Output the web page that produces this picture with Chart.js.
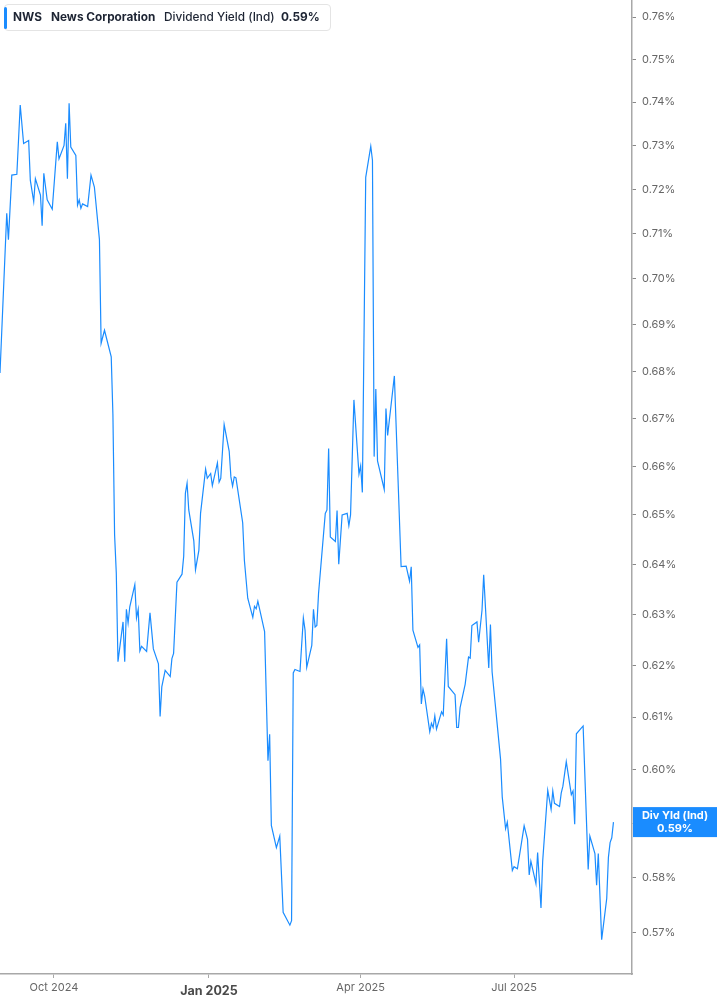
<!DOCTYPE html>
<html>
<head>
<meta charset="utf-8">
<script src="https://cdn.jsdelivr.net/npm/chart.js@4.4.1/dist/chart.umd.min.js"></script>
<style>
  html, body { margin: 0; padding: 0; background: #fff; }
  #wrap { position: relative; width: 717px; height: 1005px; }
  #legend {
    position: absolute; left: 4px; top: 4px; width: 327px; height: 27px;
    box-sizing: border-box; border: 1px solid #e4e4e4; border-radius: 4px; background: #fff;
    font-family: Inter, "Noto Sans", sans-serif; font-size: 11.8px; color: #1d2433;
  }
  #legend .bar { position: absolute; left: -1px; top: 2px; width: 3px; height: 22px; background: #1a8cff; border-radius: 2px; }
  #legend span { position: absolute; top: 5px; white-space: nowrap; }
  #legend .b { font-weight: 700; }
  #legend .m { font-weight: 500; }
</style>
</head>
<body>
<div id="wrap">
  <canvas id="chart" width="717" height="1005"></canvas>
  <div id="legend">
    <div class="bar"></div>
    <span class="b" style="left:8px">NWS</span>
    <span class="b" style="left:46px">News Corporation</span>
    <span class="m" style="left:159px">Dividend Yield (Ind)</span>
    <span class="b" id="legVal" style="left:276px"></span>
  </div>
</div>
<script>
// trading days and dividend yield in %
const dates = [
  '2024-08-30','2024-09-03','2024-09-04','2024-09-06','2024-09-09','2024-09-11','2024-09-13','2024-09-16',
  '2024-09-17','2024-09-19','2024-09-20','2024-09-23','2024-09-24','2024-09-25','2024-09-27','2024-09-30',
  '2024-10-03','2024-10-04','2024-10-07','2024-10-08','2024-10-09','2024-10-10','2024-10-11','2024-10-14',
  '2024-10-15','2024-10-16','2024-10-17','2024-10-18','2024-10-21','2024-10-23','2024-10-25','2024-10-28',
  '2024-10-29','2024-10-31','2024-11-04','2024-11-05','2024-11-06','2024-11-07','2024-11-08','2024-11-11',
  '2024-11-12','2024-11-13','2024-11-14','2024-11-15','2024-11-18','2024-11-19','2024-11-20','2024-11-21',
  '2024-11-22','2024-11-25','2024-11-27','2024-11-29','2024-12-02','2024-12-03','2024-12-04','2024-12-06',
  '2024-12-09','2024-12-10','2024-12-11','2024-12-13','2024-12-16','2024-12-17','2024-12-18','2024-12-19',
  '2024-12-20','2024-12-23','2024-12-24','2024-12-26','2024-12-27','2024-12-30','2024-12-31','2025-01-02',
  '2025-01-03','2025-01-06','2025-01-07','2025-01-08','2025-01-10','2025-01-13','2025-01-14','2025-01-15',
  '2025-01-16','2025-01-17','2025-01-21','2025-01-22','2025-01-24','2025-01-27','2025-01-28','2025-01-29',
  '2025-01-30','2025-02-03','2025-02-05','2025-02-06','2025-02-07','2025-02-10','2025-02-12','2025-02-14',
  '2025-02-18','2025-02-19','2025-02-20','2025-02-21','2025-02-24','2025-02-26','2025-02-27','2025-02-28',
  '2025-03-03','2025-03-04','2025-03-05','2025-03-06','2025-03-07','2025-03-11','2025-03-12','2025-03-13',
  '2025-03-14','2025-03-17','2025-03-18','2025-03-19','2025-03-21','2025-03-24','2025-03-25','2025-03-26',
  '2025-03-28','2025-03-31','2025-04-01','2025-04-02','2025-04-04','2025-04-07','2025-04-08','2025-04-09',
  '2025-04-10','2025-04-11','2025-04-15','2025-04-16','2025-04-17','2025-04-21','2025-04-25','2025-04-28',
  '2025-04-30','2025-05-01','2025-05-02','2025-05-05','2025-05-06','2025-05-07','2025-05-08','2025-05-09',
  '2025-05-12','2025-05-13','2025-05-14','2025-05-15','2025-05-16','2025-05-19','2025-05-20','2025-05-22',
  '2025-05-23','2025-05-27','2025-05-28','2025-05-29','2025-05-30','2025-06-02','2025-06-04','2025-06-05',
  '2025-06-06','2025-06-09','2025-06-10','2025-06-12','2025-06-13','2025-06-16','2025-06-17','2025-06-18',
  '2025-06-20','2025-06-23','2025-06-24','2025-06-26','2025-06-27','2025-06-30','2025-07-01','2025-07-03',
  '2025-07-07','2025-07-09','2025-07-10','2025-07-11','2025-07-14','2025-07-15','2025-07-17','2025-07-18',
  '2025-07-21','2025-07-23','2025-07-24','2025-07-25','2025-07-28','2025-07-29','2025-07-30','2025-08-01',
  '2025-08-04','2025-08-05','2025-08-06','2025-08-07','2025-08-11','2025-08-14','2025-08-15','2025-08-18',
  '2025-08-19','2025-08-20','2025-08-22','2025-08-25','2025-08-26','2025-08-27','2025-08-28','2025-08-29'
]
const yields = [
  0.6796,0.7146,0.7087,0.7232,0.7234,0.7393,0.7304,0.7311,
  0.7220,0.7172,0.7224,0.7187,0.7118,0.7236,0.7176,0.7155,
  0.7308,0.7269,0.7300,0.7351,0.7224,0.7397,0.7296,0.7277,
  0.7164,0.7176,0.7157,0.7167,0.7161,0.7232,0.7205,0.7087,
  0.6860,0.6888,0.6831,0.6707,0.6459,0.6382,0.6207,0.6285,
  0.6207,0.6310,0.6283,0.6315,0.6359,0.6293,0.6310,0.6228,
  0.6237,0.6227,0.6303,0.6232,0.6203,0.6101,0.6158,0.6190,
  0.6178,0.6213,0.6223,0.6364,0.6380,0.6416,0.6544,0.6565,
  0.6510,0.6447,0.6389,0.6428,0.6503,0.6594,0.6575,0.6585,
  0.6560,0.6607,0.6567,0.6575,0.6687,0.6631,0.6578,0.6559,
  0.6578,0.6576,0.6484,0.6408,0.6332,0.6294,0.6316,0.6311,
  0.6326,0.6266,0.6017,0.6067,0.5896,0.5855,0.5876,0.5737,
  0.5714,0.5722,0.6185,0.6192,0.6188,0.6293,0.6269,0.6196,
  0.6239,0.6310,0.6275,0.6278,0.6341,0.6503,0.6510,0.6637,
  0.6455,0.6446,0.6509,0.6400,0.6500,0.6503,0.6478,0.6500,
  0.6739,0.6584,0.6601,0.6546,0.7227,0.7298,0.7266,0.6620,
  0.6762,0.6611,0.6552,0.6721,0.6664,0.6790,0.6395,0.6396,
  0.6366,0.6395,0.6269,0.6235,0.6240,0.6125,0.6154,0.6140,
  0.6072,0.6088,0.6080,0.6102,0.6077,0.6110,0.6104,0.6252,
  0.6159,0.6143,0.6080,0.6080,0.6118,0.6163,0.6216,0.6214,
  0.6278,0.6285,0.6245,0.6308,0.6379,0.6195,0.6280,0.6187,
  0.6120,0.6020,0.5949,0.5890,0.5902,0.5813,0.5820,0.5816,
  0.5895,0.5870,0.5805,0.5830,0.5789,0.5846,0.5745,0.5830,
  0.5961,0.5926,0.5960,0.5937,0.5931,0.5956,0.5969,0.6015,
  0.5953,0.5960,0.5898,0.6068,0.6083,0.5815,0.5876,0.5844,
  0.5786,0.5844,0.5688,0.5762,0.5837,0.5864,0.5873,0.5902
]
const xTickDates = ['2024-10-01', '2025-01-01', '2025-04-01', '2025-07-01']
const xTickLabels = ['Oct 2024', 'Jan 2025', 'Apr 2025', 'Jul 2025']
const yTicks = [0.57, 0.58, 0.59, 0.60, 0.61, 0.62, 0.63, 0.64, 0.65, 0.66, 0.67, 0.68, 0.69, 0.70, 0.71, 0.72, 0.73, 0.74, 0.75, 0.76]
const xRange = ['2024-08-30', '2025-09-09']
const yRange = [0.5627, 0.7641]

const FONT = 'Inter, "Noto Sans", sans-serif'
const BLUE = '#1a8cff'
const last = yields[yields.length - 1]
document.getElementById('legVal').textContent = last.toFixed(2) + '%'

// blue value tag on the right axis
const lastValueTag = {
    id: 'lastValueTag',
    afterDraw(chart) {
        const ctx = chart.ctx
        const y = chart.scales.y.getPixelForValue(last)
        const x0 = chart.chartArea.right + 1
        const h = 30
        ctx.save()
        ctx.fillStyle = BLUE
        ctx.fillRect(x0, y - h / 2, chart.width - x0, h)
        ctx.fillStyle = '#fff'
        ctx.textAlign = 'center'
        ctx.textBaseline = 'middle'
        ctx.font = '700 11px ' + FONT
        const cx = (x0 + chart.width) / 2
        ctx.fillText('Div Yld (Ind)', cx, y - 6)
        ctx.fillText(last.toFixed(2) + '%', cx, y + 7)
        ctx.restore()
    }
}

new Chart(document.getElementById('chart'), {
    type: 'line',
    data: {
        datasets: [{
            label: 'Dividend Yield (Ind)',
            data: dates.map((d, i) => ({ x: Date.parse(d), y: yields[i] })),
            borderColor: BLUE,
            borderWidth: 1.2,
            pointRadius: 0,
            fill: false,
            tension: 0
        }]
    },
    options: {
        responsive: false,
        animation: false,
        layout: { padding: 0 },
        plugins: { legend: { display: false }, tooltip: { enabled: false } },
        scales: {
            x: {
                type: 'linear',
                min: Date.parse(xRange[0]),
                max: Date.parse(xRange[1]),
                afterBuildTicks: s => { s.ticks = xTickDates.map(d => ({ value: Date.parse(d) })) },
                afterFit: s => { s.height = 31; s.paddingLeft = 0; s.paddingRight = 0 },
                border: { display: true, color: '#a8a8a8', width: 1.5 },
                grid: { drawOnChartArea: false, drawTicks: true, tickLength: 4, color: '#a8a8a8' },
                ticks: {
                    autoSkip: false, maxRotation: 0, padding: 3,
                    callback: (v, i) => xTickLabels[i],
                    color: c => xTickLabels[c.index] === 'Jan 2025' ? '#4a4a4a' : '#666',
                    font: c => xTickLabels[c.index] === 'Jan 2025'
                        ? { family: FONT, size: 12.5, weight: 'bold', lineHeight: 1.6 }
                        : { family: FONT, size: 11 }
                }
            },
            y: {
                type: 'logarithmic',
                position: 'right',
                min: yRange[0],
                max: yRange[1],
                afterBuildTicks: s => { s.ticks = yTicks.map(v => ({ value: v })) },
                afterFit: s => { s.width = 85; s.paddingTop = 0; s.paddingBottom = 0 },
                border: { display: true, color: '#a8a8a8', width: 1.5 },
                grid: { drawOnChartArea: false, drawTicks: true, tickLength: 4, color: '#888' },
                ticks: {
                    padding: 6,
                    color: '#666',
                    font: { family: FONT, size: 11 },
                    callback: v => v.toFixed(2) + '%'
                }
            }
        }
    },
    plugins: [lastValueTag]
})
</script>
</body>
</html>
